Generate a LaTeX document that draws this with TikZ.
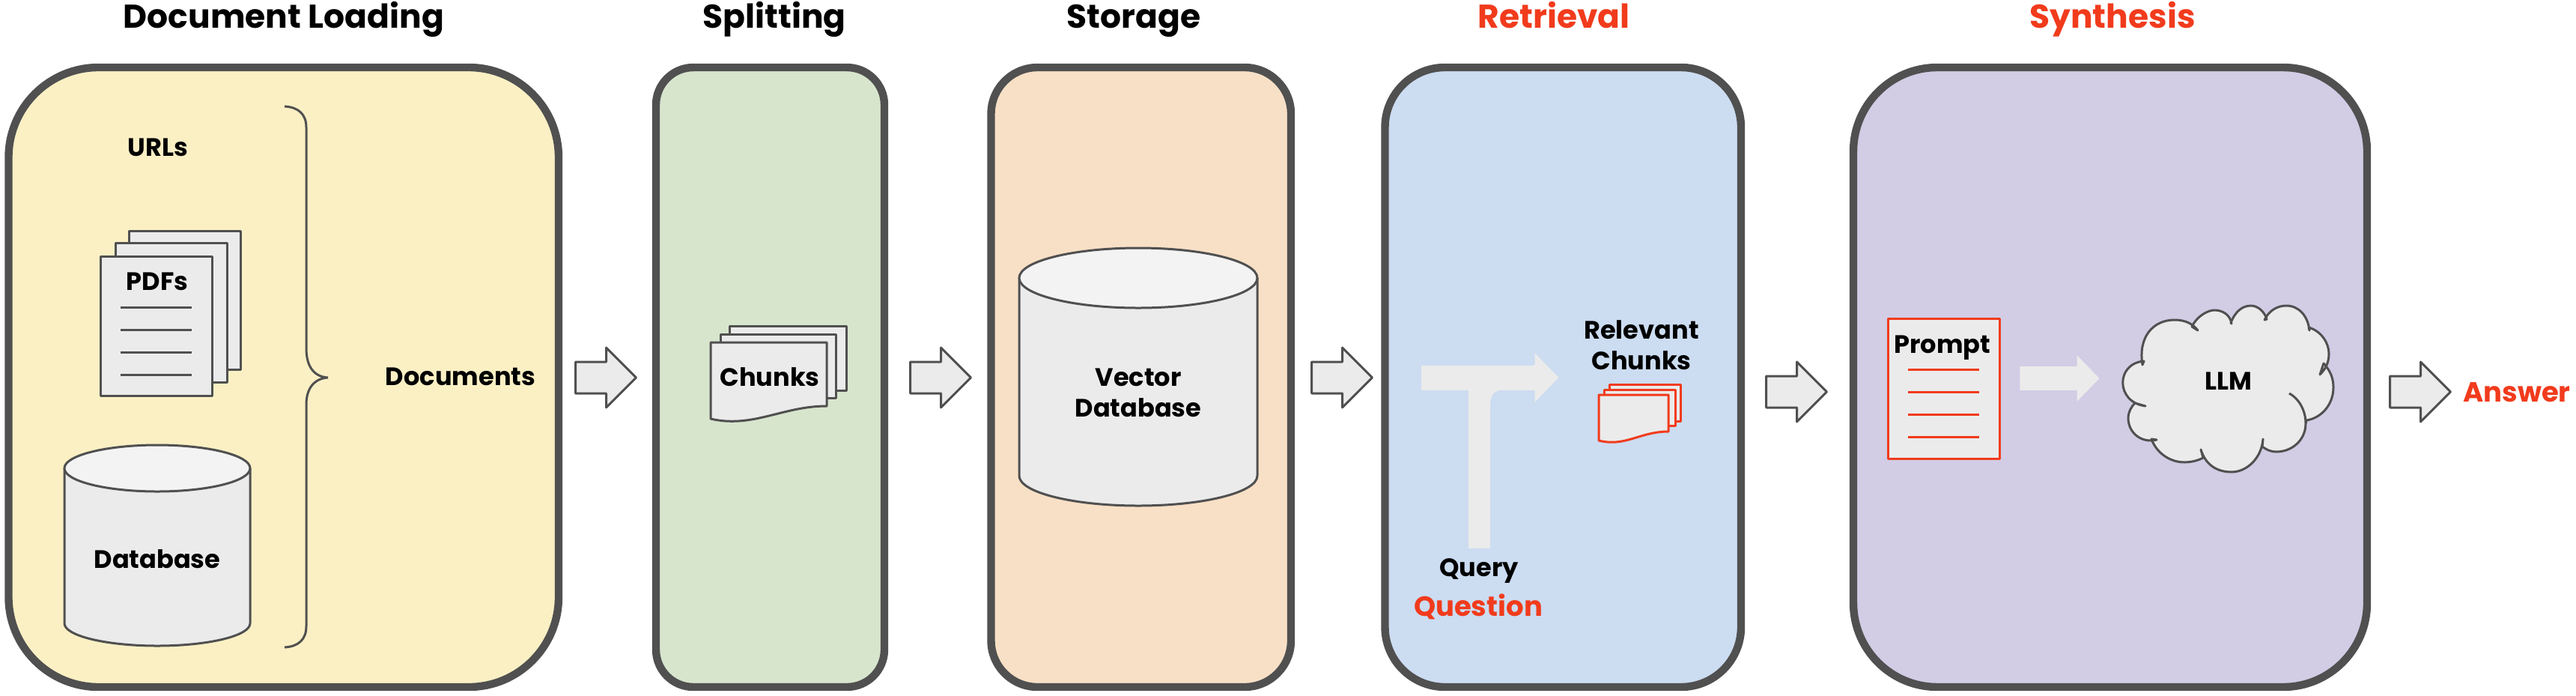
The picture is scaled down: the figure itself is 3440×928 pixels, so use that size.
\documentclass[tikz,border=0pt]{standalone}
\usepackage{fontspec}
\setmainfont{Poppins}
\usetikzlibrary{positioning, shapes.arrows}
\definecolor{edgegray}{HTML}{505050}
\definecolor{softgray}{HTML}{EBEBEB}
\definecolor{topgray}{HTML}{F3F3F3}
\definecolor{hotred}{HTML}{F13B1C}
\definecolor{loadfill}{HTML}{FBF0C4}
\definecolor{splitfill}{HTML}{D7E5CD}
\definecolor{storefill}{HTML}{F8E0C6}
\definecolor{retrfill}{HTML}{CCDCF1}
\definecolor{synthfill}{HTML}{D2CCE5}
\tikzset{
	panel/.style={draw=edgegray, line width=5.2pt, minimum height=413.5pt, inner sep=0pt},
	heading/.style={font=\fontsize{22}{26}\selectfont\bfseries, inner sep=0pt, text height=16pt, text depth=5pt},
	tag/.style={font=\fontsize{16.8}{20.5}\selectfont\bfseries, align=center, inner sep=0pt},
	bigtag/.style={font=\fontsize{18.5}{22}\selectfont\bfseries, text=hotred, inner sep=0pt},
	page/.style={draw=edgegray, fill=softgray, line width=1.5pt, line join=round},
	lid/.style={draw=edgegray, fill=topgray, line width=1.5pt},
	redpage/.style={draw=hotred, fill=softgray, line width=1.5pt, line join=round},
	rule/.style={draw=edgegray, line width=1.5pt},
	redrule/.style={draw=hotred, line width=1.5pt},
	blockarrow/.style={draw=edgegray, fill=softgray, line width=1.5pt, single arrow, single arrow head extend=9.5pt, single arrow tip angle=90, single arrow head indent=0pt, inner xsep=0pt, inner ysep=9.75pt, minimum height=40.5pt, line join=round, anchor=tail},
	softarrow/.style={fill=softgray, single arrow, single arrow tip angle=92, single arrow head indent=0pt, inner xsep=0pt, anchor=tail},
	softbar/.style={draw=softgray, line cap=butt},
}
\begin{document}
\begin{tikzpicture}[x=0.5pt, y=-0.5pt]
	\useasboundingbox (0,0) rectangle (3440,928);
	% panels
	\node[panel, fill=loadfill, minimum width=367.25pt, rounded corners=60pt] (load) at (378.75,503.5) {};
	\node[panel, fill=splitfill, minimum width=152.5pt, rounded corners=25pt] (split) at (1028.5,503.5) {};
	\node[panel, fill=storefill, minimum width=200.25pt, rounded corners=31pt] (store) at (1523.75,503.5) {};
	\node[panel, fill=retrfill, minimum width=237.75pt, rounded corners=40pt] (retr) at (2087.25,503.5) {};
	\node[panel, fill=synthfill, minimum width=343pt, rounded corners=56pt] (synth) at (2818,503.5) {};

	\node[heading] (loadhead) at (379,26) {Document Loading};
	\node[heading] (splithead) at (1034,26) {Splitting};
	\node[heading] (storehead) at (1514,26) {Storage};
	\node[heading, text=hotred] (retrhead) at (2075,26) {Retrieval};
	\node[heading, text=hotred] (synthhead) at (2821,26) {Synthesis};

	% document loading
	\node[tag] (urls) at (211,197) {URLs};
	\draw[page] (172,308) rectangle (321,493);
	\draw[page] (154,324) rectangle (303,510);
	\draw[page] (134,342) rectangle (283,528);
	\node[tag] (pdfs) at (210,376) {PDFs};
	\draw[rule] (161,410) -- (256,410);
	\draw[rule] (161,440) -- (256,440);
	\draw[rule] (161,470) -- (256,470);
	\draw[rule] (161,500) -- (256,500);
	\draw[page] (86,625) -- (86,832) arc[start angle=180, end angle=0, x radius=124, y radius=30] -- (334,625) -- cycle;
	\draw[lid] (210,625) ellipse [x radius=124, y radius=31];
	\node[tag] (dbtext) at (210,746) {Database};
	\draw[rule] (380,142) .. controls (398,143) and (409,152) .. (409,170) -- (409,465)
		.. controls (409,490) and (420,503) .. (438,504) .. controls (420,505) and (409,518) .. (409,540)
		-- (409,836) .. controls (409,854) and (398,863) .. (380,864);
	\node[tag] (docs) at (615,503) {Documents};

	% splitting
	\draw[page] (974,435) rectangle (1130,521);
	\draw[page] (962,446) rectangle (1116,531);
	\draw[page] (949,457) -- (1104,457) -- (1104,542) .. controls (1045,542) and (1005,572) .. (949,559) -- cycle;
	\node[tag] (chunks) at (1028,503) {Chunks};

	% storage
	\draw[page] (1361,371) -- (1361,635) arc[start angle=180, end angle=0, x radius=159, y radius=40] -- (1679,371) -- cycle;
	\draw[lid] (1520,371) ellipse [x radius=159, y radius=40];
	\node[tag] (vdbtext) at (1520,524) {Vector\\Database};

	% retrieval
	\node[tag] (query) at (1975,762) {Query};
	\node[bigtag] (question) at (1974,810) {Question};
	\coordinate (tleft) at (1898,504);
	\coordinate (tjoin) at (1975.5,504);
	\coordinate (qtop) at (1975.5,732);
	\draw[softbar, line width=16.5pt] (tleft) -- (2050,504);
	\draw[softbar, line width=14.5pt] (qtop) -- (tjoin);
	\fill[softgray] (1961,540) .. controls (1961,530) and (1963,525) .. (1964,521) -- (2002,521) .. controls (1994,523) and (1990,530) .. (1990,540) -- cycle;
	\node[softarrow, inner ysep=8.25pt, minimum height=17pt, single arrow head extend=8pt] (thead) at (2047,504) {};
	\node[tag] (relevant) at (2192,461) {Relevant\\Chunks};
	\draw[redpage] (2149,513) rectangle (2244,562);
	\draw[redpage] (2142,520) rectangle (2237,568);
	\draw[redpage] (2135,527) -- (2228,527) -- (2228,576) .. controls (2190,576) and (2170,597) .. (2135,588) -- cycle;

	% synthesis
	\draw[redpage] (2521,425) rectangle (2670,612);
	\node[tag] (prompt) at (2594,464) {Prompt};
	\draw[redrule] (2548,493) -- (2643,493);
	\draw[redrule] (2548,523) -- (2643,523);
	\draw[redrule] (2548,553) -- (2643,553);
	\draw[redrule] (2548,583) -- (2643,583);
	\node[softarrow, inner ysep=7.75pt, minimum height=53pt, single arrow head extend=7.5pt] (promptarrow) at (2697,505) {};
	\draw[page] (2865,542) .. controls (2825,537) and (2825,485) .. (2863,482)
		-- (2861,487) .. controls (2855,450) and (2875,427) .. (2904,427) .. controls (2918,427) and (2928,432) .. (2935,441)
		-- (2927,436) .. controls (2935,420) and (2950,414) .. (2957,414) .. controls (2968,414) and (2978,420) .. (2980,432)
		-- (2979,431) .. controls (2985,415) and (2995,408) .. (3006,408) .. controls (3015,408) and (3024,416) .. (3027,426)
		-- (3024,427) .. controls (3030,414) and (3042,408) .. (3053,408) .. controls (3070,408) and (3082,422) .. (3084,441)
		-- (3083,437) .. controls (3100,442) and (3110,458) .. (3110,472) .. controls (3110,485) and (3105,493) .. (3098,500)
		-- (3103,485) .. controls (3112,495) and (3116,505) .. (3116,517) .. controls (3116,540) and (3100,558) .. (3080,561)
		-- (3079,565) .. controls (3079,588) and (3060,603) .. (3040,603) .. controls (3032,603) and (3026,600) .. (3021,596)
		-- (3022,586) .. controls (3020,612) and (3000,630) .. (2980,630) .. controls (2960,630) and (2945,620) .. (2939,600)
		-- (2942,611) .. controls (2935,615) and (2925,617) .. (2917,617) .. controls (2898,617) and (2880,605) .. (2873,586)
		-- (2880,587) .. controls (2860,592) and (2842,578) .. (2842,558) .. controls (2842,550) and (2846,543) .. (2851,538) -- cycle;
	\draw[rule] (3057,525) .. controls (3070,532) and (3079,548) .. (3079,565);
	\node[tag] (llm) at (2976,509) {LLM};

	% arrows between the panels
	\node[blockarrow] (arrowa) at (767,504) {};
	\node[blockarrow] (arrowb) at (1214,504) {};
	\node[blockarrow] (arrowc) at (1750,504) {};
	\node[blockarrow] (arrowd) at (2357,523) {};
	\node[blockarrow] (arrowe) at (3190,523) {};
	\node[bigtag] (answer) at (3361,524) {Answer};
\end{tikzpicture}
\end{document}
